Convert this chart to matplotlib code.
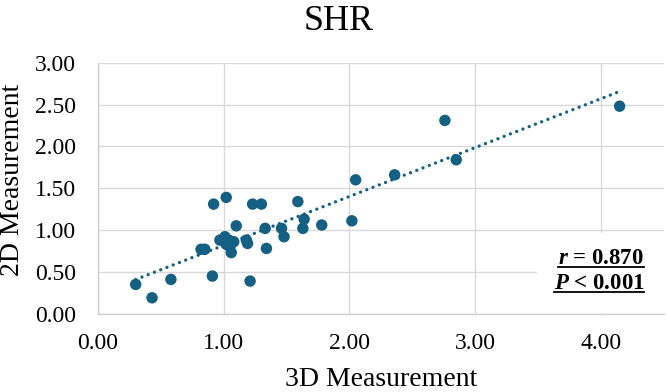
import numpy as np
import matplotlib
matplotlib.use("Agg")
import matplotlib.pyplot as plt
from matplotlib.lines import Line2D
from matplotlib.patches import Rectangle

plt.rcParams['font.family'] = ['Liberation Serif', 'DejaVu Serif']
plt.rcParams['mathtext.fontset'] = 'custom'
plt.rcParams['mathtext.bfit'] = 'Liberation Serif:italic:bold'
plt.rcParams['mathtext.it'] = 'Liberation Serif:italic:bold'

# data
x_3d = [0.30, 0.43, 0.58, 0.91, 1.21, 0.92, 1.02, 1.23, 1.30, 1.10,
        1.33, 1.46, 1.48, 0.82, 0.85, 0.97, 1.01, 1.04, 1.08, 1.06,
        1.02, 1.05, 1.18, 1.19, 1.34, 1.59, 1.64, 1.63, 1.78, 2.02,
        2.05, 2.36, 2.76, 2.85, 4.15]
y_2d = [0.35, 0.19, 0.41, 0.45, 0.39, 1.31, 1.39, 1.31, 1.31, 1.05,
        1.02, 1.02, 0.92, 0.77, 0.77, 0.88, 0.92, 0.88, 0.86, 0.73,
        0.83, 0.80, 0.88, 0.84, 0.78, 1.34, 1.13, 1.02, 1.06, 1.11,
        1.60, 1.66, 2.31, 1.84, 2.48]
x_ticks = [0, 1, 2, 3, 4]
y_ticks = [0, 0.5, 1.0, 1.5, 2.0, 2.5, 3.0]

color = '#156082'
W, H = 667, 392

fig = plt.figure(figsize=(W / 100, H / 100), dpi=100)
ax = fig.add_axes([98 / W, 1 - 313.7 / H, 565.6 / W, 251 / H])

ax.scatter(x_3d, y_2d, s=68, color=color, edgecolors='none', zorder=3)

# linear trend line over the data range
slope, icpt = np.polyfit(x_3d, y_2d, 1)
xs = np.array([min(x_3d), max(x_3d)])
ax.plot(xs, slope * xs + icpt, color=color, lw=2.4,
        linestyle=(0, (0.01, 2.0)), dash_capstyle='round', zorder=2)

ax.set_xlim(0, 4.5)
ax.set_ylim(0, 3)
ax.set_xticks(x_ticks)
ax.set_yticks(y_ticks)
ax.set_xticklabels([f'{v:.2f}' for v in x_ticks])
ax.set_yticklabels([f'{v:.2f}' for v in y_ticks])
ax.tick_params(length=0, labelsize=17, colors='black')
ax.tick_params(axis='x', pad=14)
ax.tick_params(axis='y', pad=16)
ax.grid(True, color='#d9d9d9', lw=1.0)
ax.set_axisbelow(True)
for s in ['top', 'right']:
    ax.spines[s].set_visible(False)
for s in ['left', 'bottom']:
    ax.spines[s].set_color('#d0d0d0')
    ax.spines[s].set_linewidth(1.0)
    ax.spines[s].set_zorder(5)

# white box behind the stats text
ax.add_patch(Rectangle((0.776, 0.004), 0.3, 0.318, transform=ax.transAxes,
                       facecolor='white', edgecolor='none', zorder=1.5,
                       clip_on=False))

fig.text(339 / W, 1 - 30 / H, 'SHR', fontsize=26, ha='center', va='baseline')
fig.text(381 / W, 1 - 386 / H, '3D Measurement', fontsize=20,
         ha='center', va='baseline')
fig.text(13 / W, 1 - 180 / H, '2D Measurement', fontsize=20,
         ha='center', va='center', rotation=90)

t1 = ax.text(0.966, 0.197, r'$\mathbfit{r}$ = 0.870', transform=ax.transAxes,
             fontsize=16.5, fontweight='bold', ha='right', va='baseline', zorder=6)
t2 = ax.text(0.966, 0.098, r'$\mathbfit{P}$ < 0.001', transform=ax.transAxes,
             fontsize=16.5, fontweight='bold', ha='right', va='baseline', zorder=6)

# underline both lines
fig.canvas.draw()
r = fig.canvas.get_renderer()
for t in (t1, t2):
    bb = t.get_window_extent(r)
    base = ax.transAxes.transform(t.get_position())[1] - 3
    fig.add_artist(Line2D([bb.x0 / W, bb.x1 / W], [base / H, base / H],
                          transform=fig.transFigure, color='black', lw=1.3))

fig.savefig('out.png', dpi=100)
